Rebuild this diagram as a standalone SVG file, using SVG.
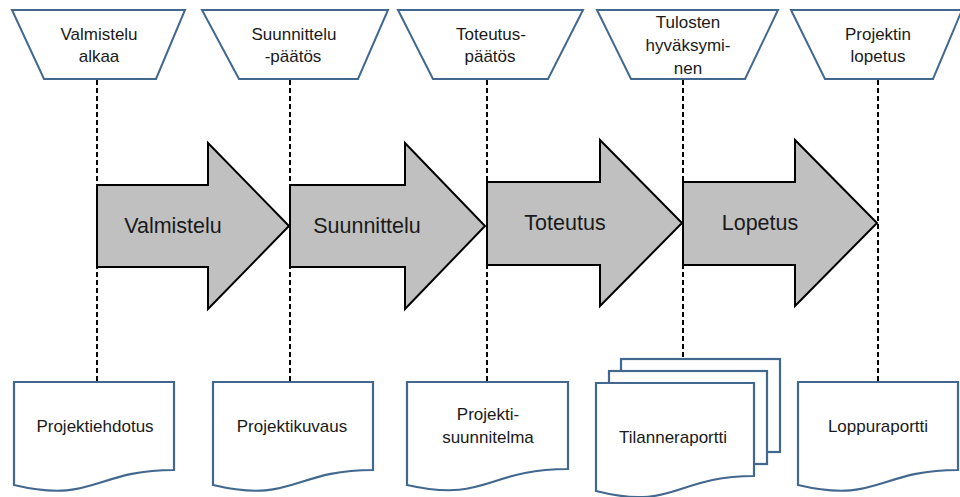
<svg xmlns="http://www.w3.org/2000/svg" width="960" height="497" viewBox="0 0 960 497">
  <style>
    .gate { fill: #ffffff; stroke: #43688f; stroke-width: 2; stroke-linejoin: miter; }
    .doc { fill: #ffffff; stroke: #43688f; stroke-width: 2.2; stroke-linejoin: miter; }
    .phase { fill: #c0c0c0; stroke: #000000; stroke-width: 2; stroke-linejoin: miter; }
    .guide { stroke: #000000; stroke-width: 2; stroke-dasharray: 5 3; fill: none; }
    .lbl { font-family: "Liberation Sans", Arial, sans-serif; font-size: 17px; fill: #1a1a1a; text-anchor: middle; }
    .big { font-family: "Liberation Sans", Arial, sans-serif; font-size: 21.5px; fill: #1a1a1a; text-anchor: middle; }
  </style>

  <rect width="960" height="497" fill="#ffffff"/>

  <!-- vertical milestone guides -->
  <g id="connectors">
    <line class="guide" x1="97" y1="80" x2="97" y2="382"/>
    <line class="guide" x1="290" y1="80" x2="290" y2="382"/>
    <line class="guide" x1="487" y1="80" x2="487" y2="382"/>
    <line class="guide" x1="683" y1="80" x2="683" y2="359"/>
    <line class="guide" x1="878" y1="80" x2="878" y2="382"/>
  </g>

  <!-- milestone gates -->
  <g id="gate-valmistelu-alkaa">
    <polygon class="gate" points="12,10 185,10 156,79 44,79"/>
    <text class="lbl" x="99" y="40">Valmistelu</text>
    <text class="lbl" x="99" y="62">alkaa</text>
  </g>
  <g id="gate-suunnittelupaatos">
    <polygon class="gate" points="202,10 388,10 358,79 239,79"/>
    <text class="lbl" x="294" y="40">Suunnittelu</text>
    <text class="lbl" x="293" y="62">-päätös</text>
  </g>
  <g id="gate-toteutuspaatos">
    <polygon class="gate" points="398,10 583,10 548,79 433,79"/>
    <text class="lbl" x="491" y="40">Toteutus-</text>
    <text class="lbl" x="490" y="62">päätös</text>
  </g>
  <g id="gate-tulosten-hyvaksyminen">
    <polygon class="gate" points="597,10 778,10 745,79 631,79"/>
    <text class="lbl" x="688" y="28">Tulosten</text>
    <text class="lbl" x="688" y="51">hyväksymi-</text>
    <text class="lbl" x="688" y="74">nen</text>
  </g>
  <g id="gate-projektin-lopetus">
    <polygon class="gate" points="791,10 962,10 933,79 825,79"/>
    <text class="lbl" x="878" y="40">Projektin</text>
    <text class="lbl" x="878" y="62">lopetus</text>
  </g>

  <!-- phase arrows -->
  <g id="phase-valmistelu">
    <polygon class="phase" points="97,185 208,185 208,143 289,226 208,309 208,267 97,267"/>
    <text class="big" x="173" y="233">Valmistelu</text>
  </g>
  <g id="phase-suunnittelu">
    <polygon class="phase" points="290,185 405,185 405,143 485,226 405,309 405,267 290,267"/>
    <text class="big" x="367" y="233">Suunnittelu</text>
  </g>
  <g id="phase-toteutus">
    <polygon class="phase" points="487,182 600,182 600,140 682,223 600,306 600,265 487,265"/>
    <text class="big" x="565" y="230">Toteutus</text>
  </g>
  <g id="phase-lopetus">
    <polygon class="phase" points="683,182 795,182 795,140 877,223 795,306 795,265 683,265"/>
    <text class="big" x="760" y="230">Lopetus</text>
  </g>

  <!-- deliverable documents -->
  <g id="doc-projektiehdotus">
    <path class="doc" d="M14,382 H174 V470 C94,470 94,504 14,485 Z"/>
    <text class="lbl" x="95" y="432">Projektiehdotus</text>
  </g>
  <g id="doc-projektikuvaus">
    <path class="doc" d="M213,382 H373 V470 C293,470 293,504 213,485 Z"/>
    <text class="lbl" x="292" y="432">Projektikuvaus</text>
  </g>
  <g id="doc-projektisuunnitelma">
    <path class="doc" d="M407,382 H568 V469 C487,469 487,503 407,485 Z"/>
    <text class="lbl" x="488" y="420">Projekti-</text>
    <text class="lbl" x="488" y="443">suunnitelma</text>
  </g>
  <g id="doc-tilanneraportti">
    <rect class="doc" x="621" y="359" width="159" height="93"/>
    <rect class="doc" x="609" y="371" width="158" height="93"/>
    <path class="doc" d="M596,383 H754 V476 C675,476 675,511 596,491 Z"/>
    <text class="lbl" x="673" y="443">Tilanneraportti</text>
  </g>
  <g id="doc-loppuraportti">
    <path class="doc" d="M798,382 H958 V470 C878,470 878,504 798,485 Z"/>
    <text class="lbl" x="878" y="432">Loppuraportti</text>
  </g>
</svg>
